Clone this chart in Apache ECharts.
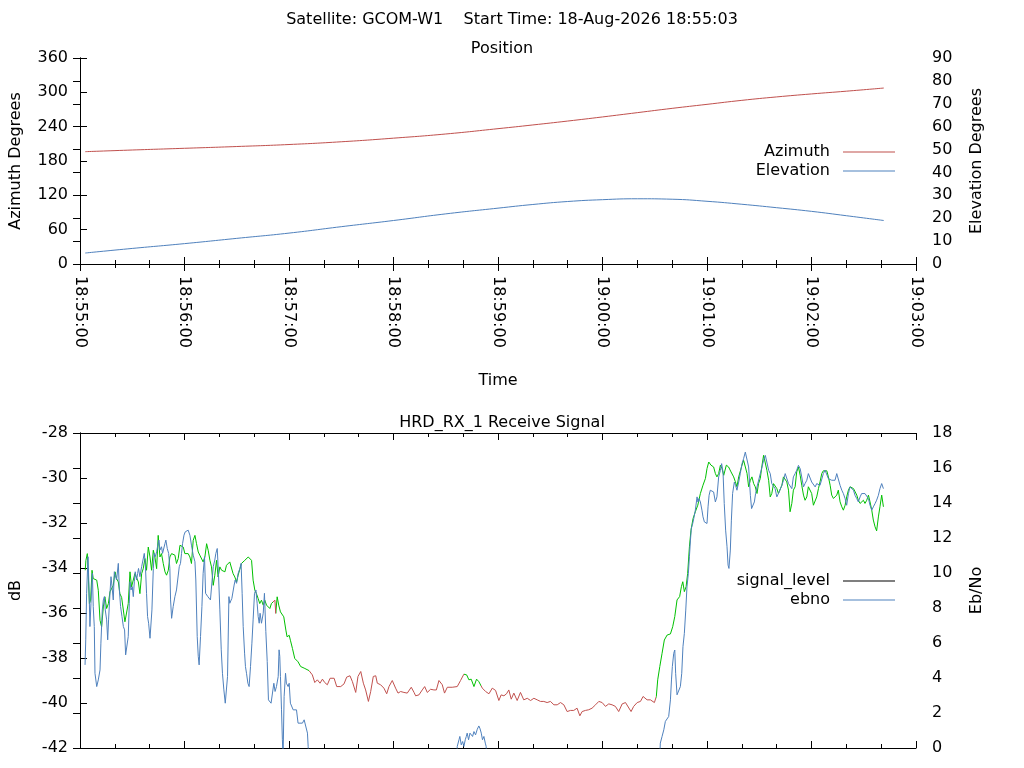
<!DOCTYPE html>
<html>
<head>
<meta charset="utf-8">
<title>GCOM-W1 pass</title>
<script src="https://cdn.jsdelivr.net/npm/echarts@6/dist/echarts.min.js"></script>
<style>
  html, body { margin: 0; padding: 0; background: #fff; }
  #chart { width: 1024px; height: 768px; }
</style>
</head>
<body>
<div id="chart"></div>
<script>
// seconds after 18:55:00
var startClock = [18, 55, 0];
var timeTicks = [0, 60, 120, 180, 240, 300, 360, 420, 480];

// Position plot
var posTime = [3, 30, 60, 90, 120, 150, 180, 210, 240, 260, 280, 300, 320, 340, 360, 380, 400, 420, 440, 461.5];
var azimuth = [196.3, 199.2, 202.2, 205.3, 208.8, 213.6, 219.9, 227.2, 236.5, 243.0, 249.8, 257.0, 264.5, 272.0, 279.0, 286.0, 292.0, 297.2, 302.0, 307.5];
var elevation = [4.8, 6.8, 8.9, 11.2, 13.5, 16.3, 19.0, 21.9, 24.4, 26.0, 27.3, 28.1, 28.5, 28.3, 27.4, 26.1, 24.6, 23.0, 21.1, 19.0];

// Receive signal: signal level (dB)
var sigTime = [3.0, 3.4, 4.2, 4.8, 5.4, 6.1, 6.9, 7.6, 8.6, 9.6, 10.5, 11.5, 12.4, 13.4, 14.3, 15.3, 16.3, 17.2, 19.1, 20.1,
  21.0, 22.0, 22.9, 23.9, 24.9, 25.8, 26.8, 27.7, 28.7, 29.6, 30.6, 31.5, 32.5, 33.5, 34.4, 35.4, 36.3, 37.3, 38.2, 39.2,
  40.2, 41.1, 42.1, 43.0, 44.0, 44.9, 45.9, 46.8, 47.8, 48.8, 49.7, 50.7, 51.6, 52.6, 53.5, 54.5, 55.4, 56.4, 57.4, 58.3,
  59.3, 60.2, 61.2, 62.1, 63.1, 64.0, 65.0, 66.0, 66.9, 67.9, 68.8, 69.8, 70.7, 71.7, 72.7, 73.6, 74.6, 75.5, 76.5, 77.4,
  78.4, 79.3, 80.3, 81.3, 82.2, 83.2, 84.1, 85.1, 86.0, 87.0, 87.9, 88.9, 89.9, 90.8, 91.8, 92.7, 93.7, 94.6, 95.6, 96.6,
  97.5, 98.5, 99.4, 100.4, 101.3, 102.3, 103.2, 104.2, 105.2, 106.1, 107.1, 108.0, 109.0, 109.9, 110.9, 111.9, 112.4, 113.2, 114.1, 115.1,
  116.2, 117.0, 118.2, 118.9, 120.1, 120.8, 122.0, 123.3, 124.3, 125.2, 126.7, 128.7, 131.5, 133.4, 134.8, 136.3, 137.8, 139.2, 140.5, 142.0,
  143.6, 145.9, 147.4, 149.7, 151.6, 153.1, 155.0, 156.4, 158.3, 159.6, 161.2, 162.7, 164.0, 165.6, 166.9, 168.4, 169.8, 170.7, 172.6, 174.5,
  176.1, 177.4, 179.3, 181.2, 182.6, 184.1, 186.0, 187.9, 190.2, 191.8, 192.7, 194.6, 196.5, 197.9, 199.4, 201.3, 203.2, 204.6, 206.1, 208.0,
  209.3, 210.9, 213.7, 216.6, 218.5, 220.4, 222.0, 223.3, 224.6, 226.2, 227.7, 229.0, 231.0, 232.9, 234.8, 236.7, 238.6, 240.5, 241.8, 243.4,
  244.9, 246.2, 247.6, 249.1, 251.0, 252.9, 254.8, 256.8, 258.7, 260.6, 262.5, 264.4, 266.3, 268.2, 270.1, 272.1, 274.0, 275.9, 277.8, 279.7,
  281.6, 283.5, 285.4, 287.0, 288.3, 290.2, 292.1, 294.0, 296.0, 297.9, 299.8, 301.7, 303.6, 305.5, 307.4, 309.3, 311.3, 313.2, 314.1, 316.4,
  317.9, 319.9, 321.8, 323.3, 325.6, 327.5, 329.8, 330.9, 331.7, 332.9, 334.2, 335.5, 337.1, 339.0, 340.3, 341.5, 342.8, 344.3, 345.3, 346.1,
  347.0, 348.0, 348.9, 349.9, 350.8, 352.0, 353.3, 354.7, 356.2, 357.7, 359.1, 360.0, 361.0, 362.3, 363.8, 364.8, 365.7, 366.7, 367.7, 368.6,
  369.6, 371.1, 372.4, 373.8, 375.3, 376.3, 377.2, 378.2, 379.1, 380.1, 381.0, 382.0, 383.0, 383.9, 384.9, 385.8, 386.8, 387.7, 388.7, 389.6,
  390.6, 391.6, 392.5, 393.5, 394.4, 395.4, 396.3, 397.2, 398.2, 399.1, 400.1, 401.0, 402.0, 403.0, 403.9, 404.9, 405.8, 406.8, 407.7, 408.7,
  409.6, 410.6, 411.5, 412.5, 413.5, 414.4, 415.4, 416.3, 417.3, 418.2, 419.2, 420.1, 421.1, 422.1, 423.0, 424.0, 424.9, 425.9, 426.8, 428.8,
  429.7, 430.7, 431.6, 432.6, 433.5, 434.5, 435.4, 436.4, 437.4, 438.3, 439.3, 440.2, 441.2, 442.1, 443.1, 444.1, 445.0, 446.0, 446.9, 447.9,
  448.8, 449.8, 450.7, 451.7, 452.7, 453.6, 454.6, 455.5, 456.5, 457.4, 458.4, 459.3, 460.3, 461.3];
var sigLevel = [-34.10, -33.66, -33.36, -34.40, -35.58, -35.43, -34.10, -34.47, -34.40, -34.54, -34.99, -36.32, -36.62, -35.73, -35.28, -35.80, -35.58, -35.06, -34.77, -34.17,
  -34.47, -34.62, -35.14, -35.31, -35.36, -36.39, -36.32, -35.58, -34.17, -34.84, -34.77, -34.25, -34.17, -34.62, -35.14, -34.25, -34.03, -33.58, -34.10, -33.07,
  -33.51, -34.10, -33.21, -33.51, -34.03, -32.55, -33.51, -33.36, -33.80, -34.17, -34.32, -34.10, -33.51, -33.36, -33.29, -33.43, -33.80, -33.58, -32.99, -32.92,
  -33.07, -33.36, -33.43, -33.36, -33.51, -33.80, -32.77, -32.55, -32.92, -33.29, -33.43, -33.51, -33.73, -33.51, -32.92, -33.21, -33.66, -33.95, -34.77, -34.32,
  -33.66, -34.40, -33.95, -34.10, -34.17, -34.17, -33.88, -33.80, -33.73, -33.73, -34.25, -34.40, -34.62, -34.32, -34.40, -33.80, -33.73, -33.66, -33.58, -33.51,
  -33.51, -33.66, -34.54, -34.99, -35.14, -35.36, -35.58, -35.43, -35.65, -35.43, -35.65, -35.65, -35.80, -35.58, -35.51, -35.43, -36.02, -35.28, -35.65, -35.95,
  -36.02, -36.17, -36.76, -37.06, -36.99, -37.21, -37.58, -38.02, -38.09, -38.17, -38.38, -38.45, -38.56, -38.75, -39.09, -38.97, -39.12, -38.94, -39.09, -39.19,
  -38.90, -38.90, -39.27, -39.27, -39.15, -38.85, -38.79, -39.05, -39.53, -38.82, -38.60, -39.12, -39.42, -39.93, -39.49, -38.82, -38.79, -39.12, -39.19, -39.34,
  -39.59, -39.27, -39.00, -39.34, -39.56, -39.49, -39.53, -39.56, -39.30, -39.53, -39.68, -39.64, -39.42, -39.27, -39.53, -39.39, -39.42, -39.42, -39.00, -39.19,
  -39.56, -39.30, -39.30, -39.27, -39.00, -38.72, -38.75, -38.97, -38.94, -39.27, -38.94, -39.05, -39.34, -39.49, -39.59, -39.34, -39.44, -39.89, -39.64, -39.68,
  -39.59, -39.42, -39.83, -39.56, -39.89, -39.53, -39.86, -39.79, -39.89, -39.79, -39.86, -39.93, -39.93, -39.98, -39.93, -40.08, -40.08, -39.98, -40.08, -40.38,
  -40.33, -40.33, -40.23, -40.57, -40.38, -40.33, -40.30, -40.23, -40.08, -39.93, -39.98, -40.15, -40.04, -40.08, -40.15, -40.38, -40.04, -39.98, -39.93, -40.38,
  -40.15, -39.98, -39.93, -39.71, -39.86, -39.86, -39.98, -39.71, -38.97, -38.38, -37.79, -37.20, -36.98, -36.93, -36.61, -36.16, -35.42, -35.27, -34.83, -34.61,
  -35.05, -34.83, -34.24, -33.06, -32.32, -31.80, -31.50, -31.21, -30.69, -30.32, -30.02, -29.58, -29.29, -29.43, -29.51, -29.80, -29.95, -29.80, -29.43, -29.58,
  -29.88, -29.43, -29.51, -29.73, -29.95, -30.17, -30.39, -29.95, -29.88, -29.43, -29.21, -29.29, -29.80, -30.39, -30.10, -29.95, -30.25, -30.39, -30.69, -30.25,
  -30.02, -29.43, -28.99, -28.92, -29.66, -30.10, -30.84, -30.69, -30.25, -30.25, -30.47, -30.69, -30.62, -30.32, -29.95, -29.88, -30.17, -30.54, -31.50, -31.13,
  -30.54, -30.39, -29.73, -29.51, -29.88, -30.32, -30.76, -30.99, -30.84, -30.39, -30.39, -30.69, -31.21, -31.13, -30.84, -30.47, -30.17, -29.80, -29.68, -29.68,
  -29.95, -30.32, -30.76, -30.91, -30.99, -30.76, -30.54, -31.06, -31.28, -31.43, -31.21, -30.84, -30.54, -30.39, -30.39, -30.47, -30.54, -30.76, -30.99, -31.13,
  -31.06, -30.99, -31.13, -30.99, -30.76, -31.06, -31.43, -31.87, -32.17, -32.35, -31.73, -31.28, -30.76, -31.28];

// periods in which the receiver was locked (signal drawn green, otherwise red)
var lockStart = [0, 112.4, 220.4, 330.6];
var lockEnd = [110.9, 131.5, 230.0, 480];

// Receive signal: Eb/No
var ebnoTime = [2.9, 3.3, 3.8, 4.6, 5.2, 5.7, 6.3, 7.1, 7.6, 8.2, 8.6, 9.6, 10.5, 11.5, 12.0, 12.8, 13.4, 14.0, 14.5, 15.3,
  15.9, 16.4, 17.2, 17.8, 18.4, 19.1, 19.7, 20.5, 21.0, 22.0, 22.6, 23.3, 24.1, 24.9, 25.6, 26.2, 27.1, 27.7, 28.3, 28.7,
  29.3, 30.0, 30.6, 31.2, 31.7, 32.5, 33.1, 33.6, 34.4, 35.4, 36.3, 36.9, 37.5, 38.2, 38.8, 39.4, 40.2, 40.7, 41.3, 42.1,
  42.6, 43.2, 44.0, 44.5, 45.3, 45.9, 46.8, 47.4, 48.2, 48.8, 49.3, 50.1, 50.9, 51.6, 52.0, 52.6, 53.5, 54.5, 55.4, 56.4,
  57.0, 57.7, 58.3, 58.9, 59.7, 60.4, 61.2, 62.1, 63.1, 64.0, 65.0, 66.0, 66.5, 67.3, 67.9, 68.4, 69.2, 70.0, 70.7, 71.5,
  72.1, 72.7, 73.4, 74.2, 74.9, 75.7, 76.5, 77.4, 78.0, 78.8, 79.5, 80.3, 81.1, 81.8, 82.6, 83.4, 84.1, 84.7, 85.5, 86.0,
  86.6, 87.2, 87.9, 88.5, 89.1, 89.9, 90.8, 91.8, 92.5, 93.1, 93.7, 94.5, 95.0, 95.6, 96.4, 97.1, 97.9, 98.7, 99.4, 100.2,
  101.0, 101.7, 102.3, 102.9, 103.4, 104.2, 105.2, 105.9, 106.7, 107.5, 108.2, 109.0, 109.7, 110.5, 111.3, 112.0, 112.8, 113.8, 114.3, 114.7,
  115.1, 115.7, 116.2, 116.6, 117.2, 118.0, 118.5, 119.5, 120.1, 120.8, 121.6, 122.4, 124.3, 125.2, 126.2, 127.7, 128.7, 129.6, 130.6, 131.0,
  131.6, 216.0, 216.6, 217.6, 218.1, 218.9, 219.7, 220.4, 221.2, 221.8, 222.3, 223.1, 223.9, 224.6, 225.4, 226.2, 227.1, 228.1, 229.0, 229.6,
  230.4, 231.1, 231.9, 232.7, 233.2, 233.8, 332.5, 333.2, 334.2, 335.2, 336.1, 337.1, 338.0, 339.0, 339.6, 340.1, 340.9, 341.5, 342.0, 342.8,
  343.8, 344.7, 345.5, 346.2, 347.0, 347.8, 348.5, 349.3, 349.9, 350.5, 351.0, 351.8, 352.4, 353.3, 354.3, 354.8, 355.4, 356.2, 357.1, 357.7,
  358.5, 359.2, 360.0, 360.6, 361.2, 361.9, 362.9, 363.8, 364.8, 365.7, 366.7, 367.7, 368.4, 369.2, 369.9, 370.7, 371.5, 372.1, 372.6, 373.4,
  374.0, 374.7, 375.7, 376.4, 377.2, 378.2, 379.1, 380.1, 381.0, 382.0, 383.0, 383.9, 384.9, 385.6, 386.4, 387.2, 387.9, 388.7, 389.6, 390.6,
  391.6, 392.5, 393.5, 394.4, 395.4, 396.3, 397.2, 398.2, 399.1, 400.1, 401.0, 402.0, 403.0, 403.9, 404.9, 405.8, 406.8, 407.7, 408.7, 409.6,
  410.6, 411.5, 412.5, 413.5, 414.4, 415.4, 416.3, 417.3, 418.2, 419.2, 420.1, 421.1, 422.1, 423.0, 424.0, 424.9, 425.9, 426.8, 427.8, 428.8,
  429.7, 430.7, 431.6, 432.6, 433.5, 434.5, 435.4, 436.4, 437.4, 438.3, 439.3, 440.2, 441.2, 442.1, 443.1, 444.1, 445.0, 446.0, 446.9, 447.9,
  448.8, 449.8, 450.7, 451.7, 452.7, 453.6, 454.6, 455.5, 456.5, 457.4, 458.4, 459.3, 460.3, 461.3];
var ebno = [4.75, 6.18, 8.84, 10.93, 9.03, 6.94, 8.27, 9.98, 8.08, 6.94, 4.27, 3.51, 3.89, 4.46, 5.99, 7.89, 8.46, 8.65, 7.89, 7.32,
  6.18, 7.32, 8.84, 9.79, 9.22, 8.46, 10.07, 10.07, 9.60, 10.55, 9.03, 8.08, 7.51, 6.94, 6.75, 5.32, 5.32, 6.37, 8.27, 9.50,
  9.03, 9.22, 8.65, 9.50, 10.07, 9.60, 9.98, 10.26, 9.79, 10.36, 10.45, 11.12, 10.55, 8.84, 7.51, 7.13, 6.27, 6.37, 7.89, 10.26,
  11.12, 10.93, 11.21, 11.50, 11.88, 11.31, 11.50, 11.12, 11.02, 11.69, 11.88, 11.40, 11.12, 10.26, 8.46, 7.41, 8.08, 8.65, 9.03, 9.03,
  10.36, 10.55, 11.12, 11.69, 12.16, 12.35, 12.35, 12.45, 12.16, 11.59, 11.02, 10.64, 9.60, 6.37, 5.24, 4.75, 6.37, 8.08, 9.98, 10.93,
  8.84, 8.74, 8.65, 8.65, 8.46, 8.55, 10.36, 10.74, 11.12, 11.40, 9.98, 7.89, 5.61, 4.27, 3.32, 2.56, 2.47, 4.08, 8.65, 8.27,
  8.17, 8.55, 8.46, 9.31, 9.60, 9.41, 9.98, 10.26, 10.55, 8.84, 6.94, 5.42, 4.65, 4.27, 3.70, 3.51, 4.65, 5.99, 7.32, 8.84,
  9.03, 8.27, 7.51, 7.13, 7.70, 7.13, 7.70, 8.84, 6.65, 4.94, 2.75, 2.75, 2.56, 2.47, 3.70, 3.23, 3.51, 4.08, 5.61, 5.24,
  4.08, 2.18, 0.47, -0.50, 2.94, 4.27, 3.70, 3.51, 3.70, 2.56, 2.47, 2.18, 2.18, 1.42, 1.42, 1.42, 1.61, 1.51, 0.85, 0.09,
  -1.5, -1.5, 0.09, 0.47, 0.66, 0.18, 0.37, 0.09, 0.47, 0.66, 0.85, 0.47, 0.85, 0.89, 0.66, 0.94, 0.75, 1.07, 1.26, 1.13,
  0.85, 0.47, 0.66, 0.28, 0.09, -1.5, -1.5, 0.28, 0.66, 1.04, 1.52, 1.61, 1.80, 2.75, 3.89, 4.65, 5.41, 5.60, 4.27, 3.04,
  3.13, 3.51, 4.27, 5.79, 6.55, 7.88, 9.21, 9.98, 10.93, 11.88, 12.54, 12.83, 13.11, 13.59, 14.35, 14.06, 14.25, 14.06, 13.59, 13.21,
  12.92, 13.02, 12.83, 13.78, 14.44, 14.73, 14.82, 14.63, 14.06, 14.35, 15.49, 15.87, 16.25, 15.77, 13.97, 12.45, 11.50, 10.45, 10.26, 11.31,
  13.02, 14.54, 15.20, 15.01, 14.73, 15.20, 15.68, 16.25, 16.53, 16.91, 16.82, 16.06, 14.44, 13.68, 13.68, 14.06, 14.54, 14.92, 14.92, 15.68,
  16.06, 16.44, 16.72, 16.63, 15.87, 15.68, 15.11, 15.11, 14.82, 14.35, 14.54, 14.54, 15.01, 15.30, 15.68, 15.58, 15.11, 15.20, 14.82, 15.49,
  15.68, 15.87, 16.15, 15.96, 15.49, 14.92, 15.11, 15.30, 15.68, 15.68, 15.20, 15.20, 14.92, 15.11, 15.01, 15.01, 14.92, 15.68, 15.87, 15.77,
  15.39, 15.30, 15.30, 15.20, 15.30, 15.68, 15.58, 15.01, 14.73, 14.54, 14.25, 13.87, 14.54, 14.92, 14.82, 14.73, 14.44, 14.25, 14.06, 14.35,
  14.54, 14.63, 14.54, 14.54, 14.25, 13.87, 13.59, 13.78, 13.97, 14.16, 14.44, 14.82, 15.11, 14.82];

var FONT = 'DejaVu Sans';
var FS = 16;

function pairs(xs, ys) {
  return xs.map(function (x, i) { return [x, ys[i]]; });
}

function clockLabel(v) {
  var t = startClock[0] * 3600 + startClock[1] * 60 + startClock[2] + v;
  var h = Math.floor(t / 3600), m = Math.floor(t / 60) % 60, s = t % 60;
  function p(n) { return (n < 10 ? '0' : '') + n; }
  return p(h) + ':' + p(m) + ':' + p(s);
}

function timeAxis(grid, pos, labels, name) {
  return {
    type: 'value', gridIndex: grid, position: pos,
    min: timeTicks[0], max: timeTicks[timeTicks.length - 1], interval: 60,
    name: name || '', nameLocation: 'middle', nameGap: 109,
    nameTextStyle: { color: '#000', fontFamily: FONT, fontSize: FS },
    axisLine: { show: true, lineStyle: { color: '#000', width: 1 } },
    axisTick: { inside: true, length: 7, lineStyle: { color: '#000' } },
    minorTick: { show: true, splitNumber: 3, length: 4, lineStyle: { color: '#000' } },
    splitLine: { show: false },
    axisLabel: {
      show: labels, rotate: -90, margin: 12, color: '#000',
      fontFamily: FONT, fontSize: FS, formatter: clockLabel
    }
  };
}

function valueAxis(grid, pos, min, max, step, name, gap) {
  return {
    type: 'value', gridIndex: grid, position: pos,
    min: min, max: max, interval: step,
    name: name, nameLocation: 'middle', nameGap: gap,
    nameTextStyle: { color: '#000', fontFamily: FONT, fontSize: FS },
    axisLine: { show: true, lineStyle: { color: '#000', width: 1 } },
    axisTick: { inside: true, length: 7, lineStyle: { color: '#000' } },
    splitLine: { show: false },
    axisLabel: {
      color: '#000', fontFamily: FONT, fontSize: FS,
      margin: pos === 'left' ? 12 : 16
    }
  };
}

var lockPieces = lockStart.map(function (s, i) {
  return { gt: s, lte: lockEnd[i], color: '#00c000' };
});

var legendBase = {
  orient: 'vertical', align: 'right', right: 124,
  icon: 'rect', itemWidth: 52, itemHeight: 1, itemGap: 3,
  textStyle: { color: '#000', fontFamily: FONT, fontSize: FS, padding: [0, 8, 0, 0] }
};

var myChart = echarts.init(document.getElementById('chart'));

var option = {
  backgroundColor: '#fff',
  animation: false,
  title: [
    { text: 'Satellite: GCOM-W1    Start Time: 18-Aug-2026 18:55:03', left: 'center', top: 7,
      textStyle: { color: '#000', fontFamily: FONT, fontSize: FS, fontWeight: 'normal' } },
    { text: 'Position', left: 497, top: 36, textAlign: 'center',
      textStyle: { color: '#000', fontFamily: FONT, fontSize: FS, fontWeight: 'normal' } },
    { text: 'HRD_RX_1 Receive Signal', left: 497, top: 410, textAlign: 'center',
      textStyle: { color: '#000', fontFamily: FONT, fontSize: FS, fontWeight: 'normal' } }
  ],
  legend: [
    Object.assign({}, legendBase, { top: 139, data: ['Azimuth', 'Elevation'] }),
    Object.assign({}, legendBase, { top: 568, data: ['signal_level', 'ebno'] })
  ],
  grid: [
    { left: 79, right: 108, top: 58, height: 206 },
    { left: 79, right: 108, top: 433, height: 315 }
  ],
  xAxis: [
    timeAxis(0, 'bottom', true, 'Time'),
    timeAxis(0, 'top', false),
    timeAxis(1, 'bottom', false),
    timeAxis(1, 'top', false)
  ],
  yAxis: [
    valueAxis(0, 'left', 0, 360, 60, 'Azimuth Degrees', 56),
    valueAxis(0, 'right', 0, 90, 10, 'Elevation Degrees', 53),
    valueAxis(1, 'left', -42, -28, 2, 'dB', 56),
    valueAxis(1, 'right', 0, 18, 2, 'Eb/No', 53)
  ],
  visualMap: {
    type: 'piecewise', show: false, seriesIndex: 2, dimension: 0,
    pieces: lockPieces,
    outOfRange: { color: '#c0504d' }
  },
  series: [
    {
      name: 'Azimuth', type: 'line', xAxisIndex: 0, yAxisIndex: 0,
      data: pairs(posTime, azimuth), symbol: 'none', smooth: true,
      color: '#c0504d', lineStyle: { width: 1 }
    },
    {
      name: 'Elevation', type: 'line', xAxisIndex: 0, yAxisIndex: 1,
      data: pairs(posTime, elevation), symbol: 'none', smooth: true,
      color: '#4f81bd', lineStyle: { width: 1 }
    },
    {
      name: 'signal_level', type: 'line', xAxisIndex: 2, yAxisIndex: 2,
      data: pairs(sigTime, sigLevel), symbol: 'none',
      color: '#000', lineStyle: { width: 1 }
    },
    {
      name: 'ebno', type: 'line', xAxisIndex: 2, yAxisIndex: 3,
      data: pairs(ebnoTime, ebno), symbol: 'none', clip: true,
      color: '#4f81bd', lineStyle: { width: 1 }
    }
  ]
};

myChart.setOption(option);
</script>
</body>
</html>
